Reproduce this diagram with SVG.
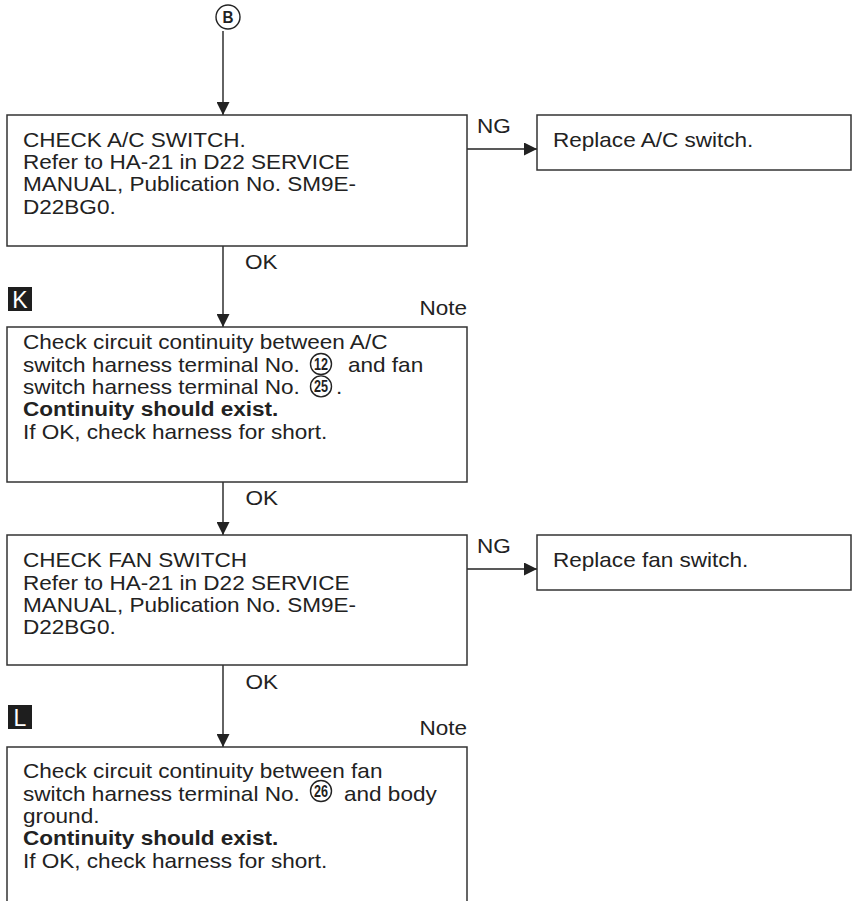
<svg xmlns="http://www.w3.org/2000/svg" width="853" height="901" viewBox="0 0 853 901">
  <defs>
    <marker id="arrow" markerUnits="userSpaceOnUse" markerWidth="13" markerHeight="13" refX="13" refY="6.5" orient="auto">
      <path d="M0,0 L13,6.5 L0,13 Z" fill="#222"/>
    </marker>
    <style>
      .box { fill: none; stroke: #333; stroke-width: 1.5; }
      .wire { fill: none; stroke: #222; stroke-width: 1.4; marker-end: url(#arrow); }
      .t { font-family: "Liberation Sans", Arial, Helvetica, sans-serif; font-size: 20.5px; fill: #222; }
      .b { font-weight: bold; }
      .tag { fill: #1e1e1e; }
      .tagt { font-family: "Liberation Sans", Arial, sans-serif; font-size: 23px; fill: #fff; }
      .ring { fill: none; stroke: #222; stroke-width: 1.4; }
      .num { font-family: "Liberation Sans", Arial, sans-serif; font-size: 16.5px; font-weight: bold; fill: #222; }
    </style>
  </defs>
  <rect width="853" height="901" fill="#fff"/>

  <!-- entry connector symbol -->
  <g id="entry-b">
    <circle class="ring" cx="228" cy="17" r="12"/>
    <text class="num" x="228" y="23" text-anchor="middle" textLength="11" lengthAdjust="spacingAndGlyphs">B</text>
  </g>

  <!-- connectors -->
  <g id="connectors">
    <path class="wire" d="M223,31 V115"/>
    <path class="wire" d="M223,246 V327"/>
    <path class="wire" d="M223,482 V535"/>
    <path class="wire" d="M223,665 V747"/>
    <path class="wire" d="M467,149 H537"/>
    <path class="wire" d="M467,569 H537"/>
    <text class="t" transform="matrix(1.1 0 0 1 477 132.7)">NG</text>
    <text class="t" transform="matrix(1.1 0 0 1 477 552.7)">NG</text>
    <text class="t" transform="matrix(1.1 0 0 1 245 269.3)">OK</text>
    <text class="t" transform="matrix(1.1 0 0 1 245.5 505)">OK</text>
    <text class="t" transform="matrix(1.1 0 0 1 245.5 689)">OK</text>
  </g>

  <!-- step: check A/C switch -->
  <g id="check-ac-switch">
    <rect class="box" x="7" y="115" width="460" height="131"/>
    <text class="t" transform="matrix(1.1 0 0 1 23 146.7)">
      <tspan x="0" y="0">CHECK A/C SWITCH.</tspan>
      <tspan x="0" y="22.4">Refer to HA-21 in D22 SERVICE</tspan>
      <tspan x="0" y="44.8">MANUAL, Publication No. SM9E-</tspan>
      <tspan x="0" y="67.2">D22BG0.</tspan>
    </text>
  </g>

  <g id="replace-ac-switch">
    <rect class="box" x="537" y="115" width="314" height="55"/>
    <text class="t" transform="matrix(1.1 0 0 1 553 146.7)">Replace A/C switch.</text>
  </g>

  <!-- step K -->
  <g id="step-k">
    <rect class="tag" x="8" y="287" width="24" height="24"/>
    <text class="tagt" x="20" y="307.5" text-anchor="middle">K</text>
    <text class="t" transform="matrix(1.1 0 0 1 467 315)" text-anchor="end">Note</text>
    <rect class="box" x="7" y="327" width="460" height="155"/>
    <text class="t" transform="matrix(1.1 0 0 1 23 349.3)">
      <tspan x="0" y="0">Check circuit continuity between A/C</tspan>
      <tspan x="0" y="22.4">switch harness terminal No.</tspan>
      <tspan x="0" y="44.8">switch harness terminal No.</tspan>
      <tspan x="0" y="67.2" class="b">Continuity should exist.</tspan>
      <tspan x="0" y="89.6">If OK, check harness for short.</tspan>
    </text>
    <circle class="ring" cx="321" cy="364" r="10.5"/>
    <text class="num" x="321" y="370" text-anchor="middle" textLength="14" lengthAdjust="spacingAndGlyphs">12</text>
    <text class="t" transform="matrix(1.1 0 0 1 348 371.7)">and fan</text>
    <circle class="ring" cx="321" cy="386.4" r="10.5"/>
    <text class="num" x="321" y="392.4" text-anchor="middle" textLength="14" lengthAdjust="spacingAndGlyphs">25</text>
    <text class="t" transform="matrix(1.1 0 0 1 336 394.1)">.</text>
  </g>

  <!-- step: check fan switch -->
  <g id="check-fan-switch">
    <rect class="box" x="7" y="535" width="460" height="130"/>
    <text class="t" transform="matrix(1.1 0 0 1 23 567.3)">
      <tspan x="0" y="0">CHECK FAN SWITCH</tspan>
      <tspan x="0" y="22.4">Refer to HA-21 in D22 SERVICE</tspan>
      <tspan x="0" y="44.8">MANUAL, Publication No. SM9E-</tspan>
      <tspan x="0" y="67.2">D22BG0.</tspan>
    </text>
  </g>

  <g id="replace-fan-switch">
    <rect class="box" x="537" y="535" width="314" height="55"/>
    <text class="t" transform="matrix(1.1 0 0 1 553 566.7)">Replace fan switch.</text>
  </g>

  <!-- step L -->
  <g id="step-l">
    <rect class="tag" x="8" y="705" width="24" height="24"/>
    <text class="tagt" x="20" y="725.5" text-anchor="middle">L</text>
    <text class="t" transform="matrix(1.1 0 0 1 467 735)" text-anchor="end">Note</text>
    <path class="box" d="M7,903 V747 H467 V903"/>
    <text class="t" transform="matrix(1.1 0 0 1 23 778.3)">
      <tspan x="0" y="0">Check circuit continuity between fan</tspan>
      <tspan x="0" y="22.4">switch harness terminal No.</tspan>
      <tspan x="0" y="44.8">ground.</tspan>
      <tspan x="0" y="67.2" class="b">Continuity should exist.</tspan>
      <tspan x="0" y="89.6">If OK, check harness for short.</tspan>
    </text>
    <circle class="ring" cx="321" cy="791" r="10.5"/>
    <text class="num" x="321" y="797" text-anchor="middle" textLength="14" lengthAdjust="spacingAndGlyphs">26</text>
    <text class="t" transform="matrix(1.1 0 0 1 344 800.7)">and body</text>
  </g>
</svg>
